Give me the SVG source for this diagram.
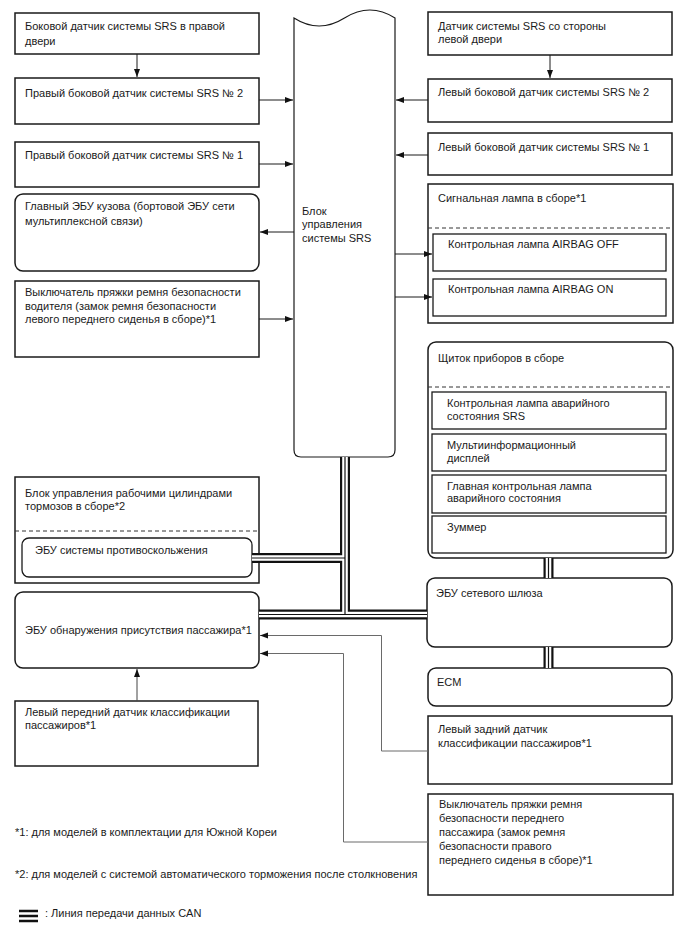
<svg xmlns="http://www.w3.org/2000/svg" width="688" height="949" viewBox="0 0 688 949">
<style>
text{font-family:"Liberation Sans",Arial,sans-serif;font-size:11px;fill:#1a1a1a}
.box{fill:#fff;stroke:#1a1a1a;stroke-width:1.5}
.sub{fill:#fff;stroke:#1a1a1a;stroke-width:1.3}
.dash{stroke:#333;stroke-width:1;stroke-dasharray:4 3;fill:none}
.ln{fill:none;stroke:#1a1a1a;stroke-width:1}
.gl{fill:none;stroke:#6a6a6a;stroke-width:1}
.c1{fill:none;stroke:#111;stroke-width:10}
.c2{fill:none;stroke:#fff;stroke-width:5.6}
.c3{fill:none;stroke:#111;stroke-width:1.2}
</style>
<defs>
<marker id="ah" markerUnits="userSpaceOnUse" markerWidth="9" markerHeight="7" refX="8" refY="3" orient="auto">
<path d="M0,0 L8,3 L0,6 Z" fill="#111"/>
</marker>
</defs>

<g id="srs">
<path class="box" style="stroke-width:1.2" d="M294,18 Q319,34 344.5,18 T395,18 L395,450 Q395,457 388,457 L301,457 Q294,457 294,450 Z"/>
<text x="302" y="215">Блок</text>
<text x="302" y="228">управления</text>
<text x="302" y="242">системы SRS</text>
</g>

<g id="n-right-door">
<rect class="box" x="15" y="13" width="244" height="41"/>
<text x="25" y="30">Боковой датчик системы SRS в правой</text>
<text x="25" y="45">двери</text>
</g>
<g id="n-right2">
<rect class="box" x="15" y="78" width="244" height="46"/>
<text x="25" y="97">Правый боковой датчик системы SRS № 2</text>
</g>
<g id="n-right1">
<rect class="box" x="15" y="142" width="244" height="45"/>
<text x="25" y="159">Правый боковой датчик системы SRS № 1</text>
</g>
<g id="n-body-ecu">
<rect class="box" x="15" y="194" width="244" height="77" rx="8"/>
<text x="25" y="210">Главный ЭБУ кузова (бортовой ЭБУ сети</text>
<text x="25" y="225">мультиплексной связи)</text>
</g>
<g id="n-driver-buckle">
<rect class="box" x="15" y="281" width="244" height="76"/>
<text x="25" y="296">Выключатель пряжки ремня безопасности</text>
<text x="25" y="310">водителя (замок ремня безопасности</text>
<text x="25" y="323">левого переднего сиденья в сборе)*1</text>
</g>

<g id="n-left-door">
<rect class="box" x="428" y="12" width="244" height="43"/>
<text x="438" y="30">Датчик системы SRS со стороны</text>
<text x="438" y="43">левой двери</text>
</g>
<g id="n-left2">
<rect class="box" x="428" y="79" width="244" height="43"/>
<text x="438" y="96">Левый боковой датчик системы SRS № 2</text>
</g>
<g id="n-left1">
<rect class="box" x="428" y="133" width="244" height="42"/>
<text x="438" y="151">Левый боковой датчик системы SRS № 1</text>
</g>
<g id="n-signal-lamp">
<rect class="box" x="428" y="184" width="245" height="139"/>
<text x="438" y="202">Сигнальная лампа в сборе*1</text>
<line class="dash" x1="428" y1="228" x2="673" y2="228"/>
<rect class="sub" x="433" y="234" width="233" height="37"/>
<text x="448" y="248">Контрольная лампа AIRBAG OFF</text>
<rect class="sub" x="433" y="279" width="233" height="37"/>
<text x="448" y="293">Контрольная лампа AIRBAG ON</text>
</g>
<g id="n-cluster">
<rect class="box" x="428" y="342" width="245" height="216" rx="8"/>
<text x="438" y="362">Щиток приборов в сборе</text>
<line class="dash" x1="428" y1="387" x2="673" y2="387"/>
<rect class="sub" x="432" y="392" width="234" height="37"/>
<text x="447" y="407">Контрольная лампа аварийного</text>
<text x="447" y="420">состояния SRS</text>
<rect class="sub" x="432" y="434" width="234" height="37"/>
<text x="447" y="449">Мультиинформационный</text>
<text x="447" y="462">дисплей</text>
<rect class="sub" x="432" y="475" width="234" height="38"/>
<text x="447" y="490">Главная контрольная лампа</text>
<text x="447" y="502">аварийного состояния</text>
<rect class="sub" x="432" y="516" width="234" height="37"/>
<text x="447" y="531">Зуммер</text>
</g>
<g id="n-gateway">
<rect class="box" x="427" y="578" width="245" height="69" rx="8"/>
<text x="436" y="597">ЭБУ сетевого шлюза</text>
</g>
<g id="n-ecm">
<rect class="box" x="428" y="668" width="244" height="38" rx="8"/>
<text x="437" y="686">ECM</text>
</g>
<g id="n-rear-sensor">
<rect class="box" x="428" y="716" width="244" height="68"/>
<text x="438" y="733">Левый задний датчик</text>
<text x="438" y="747">классификации пассажиров*1</text>
</g>
<g id="n-pass-buckle">
<rect class="box" x="428" y="794" width="245" height="101"/>
<text x="439" y="808">Выключатель пряжки ремня</text>
<text x="439" y="822">безопасности переднего</text>
<text x="439" y="836">пассажира (замок ремня</text>
<text x="439" y="850">безопасности правого</text>
<text x="439" y="864">переднего сиденья в сборе)*1</text>
</g>

<g id="n-brake">
<rect class="box" x="15" y="477" width="244" height="106"/>
<text x="25" y="497">Блок управления рабочими цилиндрами</text>
<text x="25" y="510">тормозов в сборе*2</text>
<line class="dash" x1="15" y1="531" x2="259" y2="531"/>
<rect class="sub" x="22" y="538" width="230" height="39" rx="7"/>
<text x="35" y="554">ЭБУ системы противоскольжения</text>
</g>
<g id="n-occupant">
<rect class="box" x="15" y="592" width="244" height="76" rx="8"/>
<text x="25" y="634">ЭБУ обнаружения присутствия пассажира*1</text>
</g>
<g id="n-front-sensor">
<rect class="box" x="15" y="701" width="243" height="65"/>
<text x="25" y="716">Левый передний датчик классификации</text>
<text x="25" y="729">пассажиров*1</text>
</g>

<g id="connectors">
<path class="ln" d="M137,54 V77" marker-end="url(#ah)"/>
<path class="ln" d="M259,100 H293" marker-end="url(#ah)"/>
<path class="ln" d="M259,164 H293" marker-end="url(#ah)"/>
<path class="ln" d="M294,232 H260" marker-end="url(#ah)"/>
<path class="ln" d="M259,319 H293" marker-end="url(#ah)"/>
<path class="ln" d="M550,55 V78" marker-end="url(#ah)"/>
<path class="ln" d="M428,100 H396" marker-end="url(#ah)"/>
<path class="ln" d="M428,155 H396" marker-end="url(#ah)"/>
<path class="ln" d="M395,254 H432" marker-end="url(#ah)"/>
<path class="ln" d="M395,297 H432" marker-end="url(#ah)"/>
<path class="gl" style="stroke:#444" d="M137,701 V669" marker-end="url(#ah)"/>
<path class="gl" d="M428,751 H381.5 V635.5 H260" marker-end="url(#ah)"/>
<path class="gl" d="M428,842 H343.5 V653.5 H260" marker-end="url(#ah)"/>
<g id="can">
<path class="c1" d="M345,457 V614.5 M252,558 H345 M259,614.5 H427 M548.5,558 V578 M548.5,647 V668"/>
<path class="c2" d="M345,457 V614.5 M252,558 H345 M259,614.5 H427 M548.5,558 V578 M548.5,647 V668"/>
<path class="c3" d="M345,457 V614.5 M252,558 H345 M259,614.5 H427 M548.5,558 V578 M548.5,647 V668"/>
</g>
</g>

<g id="notes">
<text x="15" y="836">*1: для моделей в комплектации для Южной Кореи</text>
<text x="15" y="878">*2: для моделей с системой автоматического торможения после столкновения</text>
<path d="M19,911 H38 M19,916 H38 M19,921 H38" stroke="#111" stroke-width="2.4" fill="none"/>
<text x="45" y="917">: Линия передачи данных CAN</text>
</g>
</svg>
